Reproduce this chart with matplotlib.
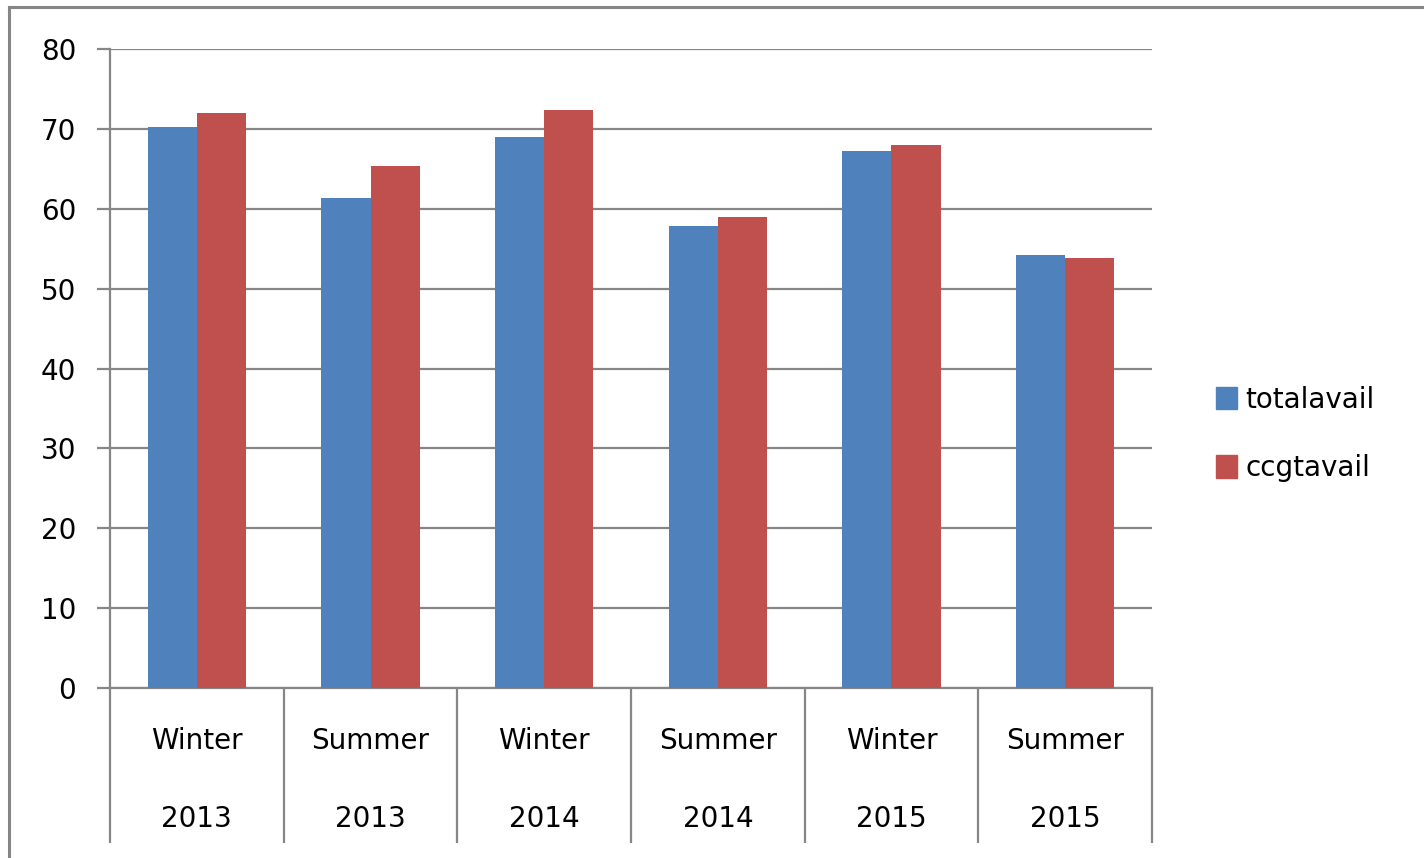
import numpy as np
import matplotlib.pyplot as plt
from matplotlib.lines import Line2D
from matplotlib.patches import Patch

seasons = ['Winter', 'Summer', 'Winter', 'Summer', 'Winter', 'Summer']
years = ['2013', '2013', '2014', '2014', '2015', '2015']
totalavail = [70.2, 61.3, 69.0, 57.9, 67.2, 54.2]
ccgtavail = [72.0, 65.3, 72.4, 59.0, 68.0, 53.8]
yticks = [0, 10, 20, 30, 40, 50, 60, 70, 80]

blue = '#4F81BD'
red = '#C0504D'
grey = '#868686'

fig = plt.figure(figsize=(14.24, 8.58), dpi=100)
ax = fig.add_axes([110 / 1424, 1 - 688 / 858, (1152 - 110) / 1424, (688 - 49) / 858])

x = np.arange(len(seasons))
w = 0.283
ax.bar(x - w / 2, totalavail, w, color=blue, zorder=3)
ax.bar(x + w / 2, ccgtavail, w, color=red, zorder=3)

ax.set_xlim(-0.5, len(seasons) - 0.5)
ax.set_ylim(0, 80)
ax.set_yticks(yticks)
ax.set_yticklabels([str(v) for v in yticks], fontsize=20)
ax.yaxis.grid(True, color=grey, linewidth=1.6, zorder=0)
ax.tick_params(axis='y', length=9.4, width=1.6, color=grey, pad=15)

ax.set_xticks(x)
ax.set_xticklabels([s + '\n' + y for s, y in zip(seasons, years)], fontsize=20, linespacing=3.3)
ax.tick_params(axis='x', which='major', length=0, pad=28)
ax.set_xticks(np.arange(-0.5, len(seasons)), minor=True)
ax.tick_params(axis='x', which='minor', length=111.6, width=1.6, color=grey)

for s in ['top', 'right']:
    ax.spines[s].set_visible(False)
for s in ['left', 'bottom']:
    ax.spines[s].set_color(grey)
    ax.spines[s].set_linewidth(1.6)

handles = [Patch(color=blue), Patch(color=red)]
fig.legend(handles, ['totalavail', 'ccgtavail'], loc='center left',
           bbox_to_anchor=(1191 / 1424, 1 - 434 / 858), frameon=False,
           fontsize=20, handlelength=0.75, handleheight=0.85,
           handletextpad=0.3, labelspacing=1.45)

# outer chart frame
fig.add_artist(Line2D([9 / 1424, 1.0], [1 - 7 / 858, 1 - 7 / 858], color=grey, linewidth=2.2))
fig.add_artist(Line2D([9 / 1424, 9 / 1424], [0.0, 1 - 7 / 858], color=grey, linewidth=2.2))

fig.savefig('out.png', dpi=100)
